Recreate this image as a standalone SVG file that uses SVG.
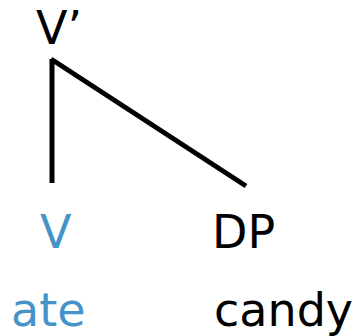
<svg xmlns="http://www.w3.org/2000/svg" width="358" height="336" viewBox="0 0 358 336">
<style>
text{font-family:"DejaVu Sans","Verdana",sans-serif;font-size:46px;fill:#000}
.blue{fill:#4593C9}
.edge{stroke:#000;stroke-width:5;fill:none;stroke-linecap:butt}
</style>
<rect width="358" height="336" fill="#fff"/>
<g id="connectors">
<line class="edge" x1="52" y1="59" x2="52" y2="183"/>
<line class="edge" x1="51" y1="59" x2="246" y2="186"/>
</g>
<g id="node-vbar"><text x="36" y="44">V’</text></g>
<g id="node-v"><text class="blue" x="40" y="248">V</text></g>
<g id="node-dp"><text x="212" y="248">DP</text></g>
<g id="word-ate"><text class="blue" x="11" y="326">ate</text></g>
<g id="word-candy"><text x="214" y="326">candy</text></g>
</svg>
